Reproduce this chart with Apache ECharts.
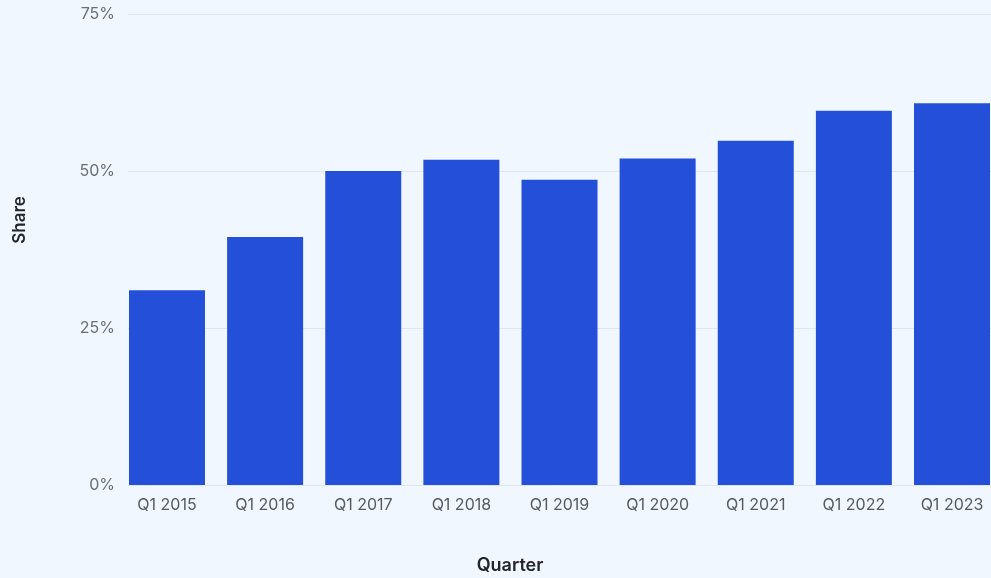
<!DOCTYPE html>
<html>
<head>
<meta charset="utf-8">
<script src="https://cdn.jsdelivr.net/npm/echarts@6/dist/echarts.min.js"></script>
<style>
html,body{margin:0;padding:0;background:#f1f7fe;}
#chart{width:991px;height:578px;}
</style>
</head>
<body>
<div id="chart"></div>
<script>
const categories = ['Q1 2015','Q1 2016','Q1 2017','Q1 2018','Q1 2019','Q1 2020','Q1 2021','Q1 2022','Q1 2023'];
const shareValues = [31, 39.5, 50, 51.8, 48.6, 52, 54.8, 59.6, 60.8];
const yTicks = [0, 25, 50, 75];

const yMin = yTicks[0], yMax = yTicks[yTicks.length - 1];
const chart = echarts.init(document.getElementById('chart'), null, {renderer:'canvas'});
chart.setOption({
  backgroundColor: '#f1f7fe',
  textStyle: {fontFamily: 'Inter'},
  grid: [
    {left: 128, top: 14, right: 0, bottom: 93},
    {left: 167, top: 14, right: 39, bottom: 93}
  ],
  xAxis: [
    {type: 'value', gridIndex: 0, show: false, min: 0, max: 1},
    {
      type: 'category',
      gridIndex: 1,
      data: categories,
      boundaryGap: false,
      axisLine: {show: false},
      axisTick: {show: false},
      splitLine: {show: false},
      axisLabel: {color: '#555a62', fontSize: 16, margin: 12, fontFamily: 'Inter', interval: 0}
    }
  ],
  yAxis: [
    {
      type: 'value',
      gridIndex: 0,
      min: yMin,
      max: yMax,
      interval: 25,
      axisLine: {show: false},
      axisTick: {show: false},
      axisLabel: {color: '#6a6e75', fontSize: 16, margin: 13, formatter: v => v + '%', fontFamily: 'Inter'},
      splitLine: {lineStyle: {color: '#dfe6ef', width: 1}}
    },
    {type: 'value', gridIndex: 1, min: yMin, max: yMax, show: false, splitLine: {show: false}}
  ],
  series: [{
    type: 'bar',
    xAxisIndex: 1,
    yAxisIndex: 1,
    data: shareValues,
    barWidth: 76,
    clip: false,
    itemStyle: {color: '#234fd9'},
    silent: true
  }],
  graphic: [
    {type: 'text', x: 510, y: 566, style: {text: 'Quarter', fill: '#22252b', font: '600 18px Inter', align: 'center', verticalAlign: 'middle'}},
    {type: 'text', x: 20, y: 220, rotation: Math.PI / 2, style: {text: 'Share', fill: '#22252b', font: '600 17px Inter', align: 'center', verticalAlign: 'middle'}}
  ]
});
</script>
</body>
</html>
